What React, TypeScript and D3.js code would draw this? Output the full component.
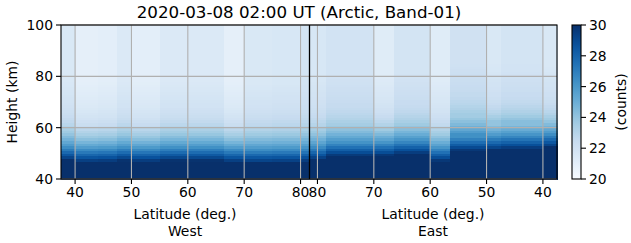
import React, { useEffect, useRef } from 'react';
import * as d3 from 'd3';

// vertical profile: counts above the column's background, per km above the saturated layer
const profile = [8.6, 7.8, 7.1, 6.4, 5.7, 5.0, 4.4, 3.9, 3.4, 3.0, 2.6, 2.3, 2.0, 1.7, 1.5, 1.3, 1.15, 1.0, 0.9, 0.8, 0.7, 0.6, 0.55, 0.5, 0.45, 0.4, 0.35, 0.3, 0.25, 0.2, 0.15, 0.1];

// West half (latitude increasing left to right)
const westLat = [37.5, 40, 44, 47.5, 50, 55, 60, 66.5, 70, 75, 80, 81.5];
const westTop = [21.4, 20.8, 20.9, 21.3, 20.9, 21.3, 21.3, 20.8, 21.4, 21.5, 21.7];
const westEdge = [47, 47, 47, 47, 47, 47, 47, 47, 46, 46, 46];
const westStretch = [1, 1, 1, 1, 1, 1, 1, 1, 1, 1, 1];

// East half (latitude decreasing left to right)
const eastLat = [81.5, 78.5, 74, 70, 66.5, 60, 56.5, 50, 47.5, 40, 37.5];
const eastTop = [21.5, 21.8, 21.8, 21.1, 21.7, 21.1, 21.9, 21.4, 21.7, 21.4];
const eastEdge = [47, 47, 47, 49, 48, 47, 49, 50, 50, 51];
const eastStretch = [1.0, 1.05, 1.05, 1.0, 1.05, 1.0, 1.15, 1.1, 1.1, 1.05];

const heights = d3.range(40, 100);
const latTicks = [40, 50, 60, 70, 80];
const heightTicks = [40, 60, 80, 100];
const countTicks = [20, 22, 24, 26, 28, 30];

const FONT = 'DejaVu Sans';

export default function App() {
    const ref = useRef<SVGSVGElement>(null);

    useEffect(() => {
        const svg = d3.select(ref.current);
        svg.selectAll('*').remove();

        const left = 61, right = 557, top = 25, bottom = 179;
        const split = 81.5;
        const x = d3.scaleLinear().domain([0, 88]).range([left, right]);
        const y = d3.scaleLinear().domain([40, 100]).range([bottom, top]);
        const westX = (lat: number) => x(lat - 37.5);
        const eastX = (lat: number) => x(44 + (split - lat));

        const color = d3.scaleLinear<string>()
            .domain(d3.range(9).map((i) => 20 + (i * 10) / 8))
            .range(d3.schemeBlues[9])
            .clamp(true);

        const countAt = (h: number, edge: number, bg: number, st: number) => {
            if (h < edge) return 30;
            const i = Math.min(profile.length - 1, Math.floor((h - edge) / st));
            return bg + profile[i];
        };

        const img = svg.append('g').attr('shape-rendering', 'crispEdges');
        const drawHalf = (lats: number[], tops: number[], edges: number[], st: number[], fx: (l: number) => number) => {
            tops.forEach((bg, i) => {
                const x0 = fx(lats[i]);
                const x1 = fx(lats[i + 1]);
                img.selectAll(null)
                    .data(heights)
                    .enter()
                    .append('rect')
                    .attr('x', Math.min(x0, x1))
                    .attr('width', Math.abs(x1 - x0) + 0.5)
                    .attr('y', (h) => y(h + 1))
                    .attr('height', (h) => y(h) - y(h + 1) + 0.5)
                    .attr('fill', (h) => color(countAt(h, edges[i], bg, st[i])));
            });
        };
        drawHalf(westLat, westTop, westEdge, westStretch, westX);
        drawHalf(eastLat, eastTop, eastEdge, eastStretch, eastX);

        // grid
        const grid = svg.append('g').attr('stroke', '#b0b0b0').attr('stroke-width', 1.1);
        latTicks.forEach((t) => {
            [westX(t), eastX(t)].forEach((px) => {
                grid.append('line').attr('x1', px).attr('x2', px).attr('y1', top).attr('y2', bottom);
            });
        });
        heightTicks.forEach((t) => {
            grid.append('line').attr('x1', left).attr('x2', right).attr('y1', y(t)).attr('y2', y(t));
        });

        // split line
        svg.append('line')
            .attr('x1', x(44) + 0.5).attr('x2', x(44) + 0.5)
            .attr('y1', top).attr('y2', bottom)
            .attr('stroke', 'black').attr('stroke-width', 1.3);

        // frame
        svg.append('rect')
            .attr('x', left).attr('y', top)
            .attr('width', right - left).attr('height', bottom - top)
            .attr('fill', 'none').attr('stroke', 'black').attr('stroke-width', 1.1);

        const text = (g: any) => g.attr('font-family', FONT).attr('fill', 'black');

        // x ticks
        const xt = svg.append('g');
        latTicks.forEach((t) => {
            [westX(t), eastX(t)].forEach((px) => {
                xt.append('line').attr('x1', px).attr('x2', px).attr('y1', bottom).attr('y2', bottom + 5)
                    .attr('stroke', 'black').attr('stroke-width', 1.1);
                xt.append('text').call(text).attr('x', px).attr('y', bottom + 18)
                    .attr('text-anchor', 'middle').attr('font-size', 13.9).text(t);
            });
        });

        // y ticks
        heightTicks.forEach((t) => {
            xt.append('line').attr('x1', left - 5).attr('x2', left).attr('y1', y(t)).attr('y2', y(t))
                .attr('stroke', 'black').attr('stroke-width', 1.1);
            xt.append('text').call(text).attr('x', left - 8).attr('y', y(t) + 5)
                .attr('text-anchor', 'end').attr('font-size', 13.9).text(t);
        });

        // axis labels
        [[x(22), 'West'], [x(66), 'East']].forEach(([cx, name]) => {
            svg.append('text').call(text).attr('x', cx).attr('y', 219)
                .attr('text-anchor', 'middle').attr('font-size', 13.9).text('Latitude (deg.)');
            svg.append('text').call(text).attr('x', cx).attr('y', 236)
                .attr('text-anchor', 'middle').attr('font-size', 13.9).text(name as string);
        });
        svg.append('text').call(text)
            .attr('transform', `translate(17,${(top + bottom) / 2}) rotate(-90)`)
            .attr('text-anchor', 'middle').attr('font-size', 13.9).text('Height (km)');

        // title
        svg.append('text').call(text).attr('x', 299).attr('y', 18)
            .attr('text-anchor', 'middle').attr('font-size', 16.7)
            .text('2020-03-08 02:00 UT (Arctic, Band-01)');

        // colorbar
        const cbx = 572, cbw = 9;
        const cy = d3.scaleLinear().domain([20, 30]).range([bottom, top]);
        const defs = svg.append('defs');
        const grad = defs.append('linearGradient').attr('id', 'cb').attr('x1', 0).attr('y1', 1).attr('x2', 0).attr('y2', 0);
        d3.range(0, 1.0001, 0.05).forEach((f) => {
            grad.append('stop').attr('offset', f).attr('stop-color', color(20 + f * 10));
        });
        svg.append('rect').attr('x', cbx).attr('y', top).attr('width', cbw).attr('height', bottom - top)
            .attr('fill', 'url(#cb)').attr('stroke', 'black').attr('stroke-width', 1.1);
        countTicks.forEach((t) => {
            svg.append('line').attr('x1', cbx + cbw).attr('x2', cbx + cbw + 5)
                .attr('y1', cy(t)).attr('y2', cy(t)).attr('stroke', 'black').attr('stroke-width', 1.1);
            svg.append('text').call(text).attr('x', cbx + cbw + 8).attr('y', cy(t) + 5)
                .attr('font-size', 13.9).text(t);
        });
        svg.append('text').call(text)
            .attr('transform', `translate(626,${(top + bottom) / 2}) rotate(-90)`)
            .attr('text-anchor', 'middle').attr('font-size', 13.9).text('(counts)');
    }, []);

    return (
        <svg ref={ref} width={631} height={243} style={{ position: 'absolute', left: 0, top: 0, background: 'white' }} />
    );
}
